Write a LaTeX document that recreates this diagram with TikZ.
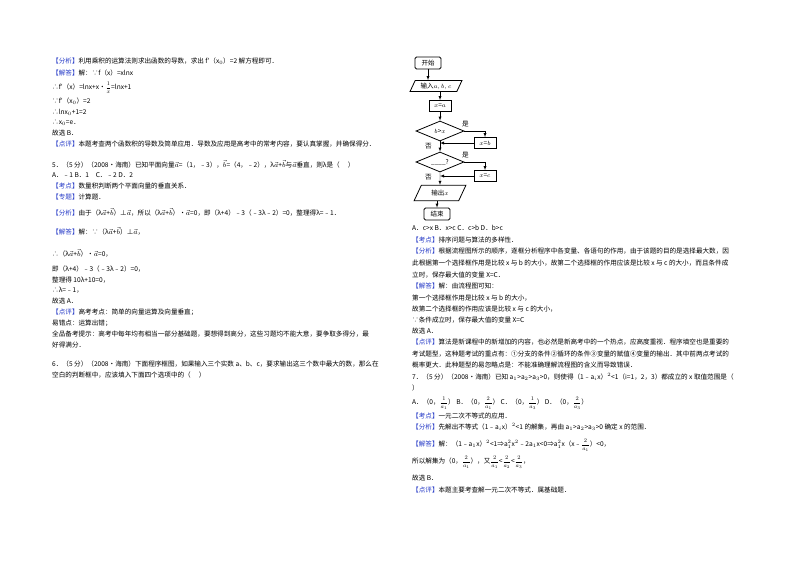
\documentclass[tikz,border=0pt]{standalone}
\usepackage{fontspec}
\setmainfont{Noto Sans CJK SC}
\usetikzlibrary{shapes.geometric}
\definecolor{lb}{RGB}{40,60,200}
\newcommand{\tg}[1]{{\color{lb}【#1】}}
\newcommand{\fr}[2]{\scalebox{0.8}{$\displaystyle\frac{#1}{#2}$}}
\begin{document}
\begin{tikzpicture}[x=1pt,y=-1pt,
  t/.style={anchor=west,inner sep=0pt,font=\fontsize{6.6}{7}\selectfont},
  fc/.style={draw,thick,font=\fontsize{6.5}{7}\selectfont,inner sep=1pt},
  io/.style={fc,trapezium,trapezium left angle=65,trapezium right angle=115,minimum height=11pt,minimum width=52pt},
  dia/.style={fc,diamond,aspect=2.6,minimum width=48pt,minimum height=20pt,inner sep=0pt},
  box/.style={fc,minimum width=22pt,minimum height=11pt},
  ar/.style={draw,->,>=latex}]
\useasboundingbox (0,0) rectangle (800,566);
\fill[white] (0,0) rectangle (800,566);
% left column
\node[t] (l1) at (52,61) {\tg{分析}利用乘积的运算法则求出函数的导数，求出 f′（x$_0$）=2 解方程即可．};
\node[t] (l2) at (52,73) {\tg{解答}解：∵f（x）=xlnx};
\node[t] (l3) at (52,88) {∴f′（x）=lnx+x•\fr{1}{x}=lnx+1};
\node[t] (l4) at (52,101) {∵f′（x$_0$）=2};
\node[t] (l5) at (52,112) {∴lnx$_0$+1=2};
\node[t] (l6) at (52,123) {∴x$_0$=e．};
\node[t] (l7) at (52,133) {故选 B．};
\node[t] (l8) at (52,144) {\tg{点评}本题考查两个函数积的导数及简单应用．导数及应用是高考中的常考内容，要认真掌握，并确保得分．};
\node[t] (l9) at (52,164) {5．（5 分）（2008•海南）已知平面向量$\vec a$=（1，﹣3），$\vec b$=（4，﹣2），λ$\vec a$+$\vec b$与$\vec a$垂直，则λ是（\quad\ ）};
\node[t] (l10) at (52,175) {A．﹣1 B．1\quad C．﹣2 D．2};
\node[t] (l11) at (52,186) {\tg{考点}数量积判断两个平面向量的垂直关系．};
\node[t] (l12) at (52,197) {\tg{专题}计算题．};
\node[t] (l13) at (52,212) {\tg{分析}由于（λ$\vec a$+$\vec b$）⊥$\vec a$，所以（λ$\vec a$+$\vec b$）•$\vec a$=0，即（λ+4）﹣3（﹣3λ﹣2）=0，整理得λ=﹣1．};
\node[t] (l14) at (52,231) {\tg{解答}解：∵（λ$\vec a$+$\vec b$）⊥$\vec a$，};
\node[t] (l15) at (52,253) {∴（λ$\vec a$+$\vec b$）•$\vec a$=0，};
\node[t] (l16) at (52,269) {即（λ+4）﹣3（﹣3λ﹣2）=0，};
\node[t] (l17) at (52,280) {整理得 10λ+10=0，};
\node[t] (l18) at (52,290) {∴λ=﹣1，};
\node[t] (l19) at (52,301) {故选 A．};
\node[t] (l20) at (52,312) {\tg{点评}高考考点：简单的向量运算及向量垂直；};
\node[t] (l21) at (52,323) {易错点：运算出错；};
\node[t] (l22) at (52,334) {全品备考提示：高考中每年均有相当一部分基础题，要想得到高分，这些习题均不能大意，要争取多得分，最};
\node[t] (l23) at (52,345) {好得满分．};
\node[t] (l24) at (52,364) {6．（5 分）（2008•海南）下面程序框图，如果输入三个实数 a、b、c，要求输出这三个数中最大的数，那么在};
\node[t] (l25) at (52,375) {空白的判断框中，应该填入下面四个选项中的（\quad\ ）};
% flowchart
\node[fc,rounded corners=1.5pt,minimum width=26pt,minimum height=12pt] (st) at (428,63) {开始};
\node[io] (in) at (436,86) {输入$a,b,c$};
\node[box] (xa) at (440,106) {$x$=$a$};
\node[dia] (d1) at (440,131) {$b$>$x$};
\node[box] (xb) at (485,143) {$x$=$b$};
\node[dia] (d2) at (440,162) {\_\_\_\_?};
\node[box] (xc) at (485,176) {$x$=$c$};
\node[io] (out) at (440,193) {输出$x$};
\node[fc,rounded corners=1.5pt,minimum width=26pt,minimum height=12pt] (en) at (437,214) {结束};
\coordinate (j1) at (440,143);
\coordinate (j2) at (440,176);
\draw[ar] (st) -- (st|-in.north);
\draw[ar] (in.south-|xa) -- (xa);
\draw[ar] (xa) -- (d1);
\draw[ar] (d1.east) -| (xb.north);
\draw[ar] (xb.west) -- (j1);
\draw[ar] (d1.south) -- (d2.north);
\draw[ar] (d2.east) -| (xc.north);
\draw[ar] (xc.west) -- (j2);
\draw[ar] (d2.south) -- (out.north);
\draw[ar] (out.south-|en) -- (en);
\node[t] (y1) at (462,124) {是};
\node[t] (n1) at (425,146) {否};
\node[t] (y2) at (462,155) {是};
\node[t] (n2) at (425,177) {否};
% right column
\node[t] (r1) at (412,228) {A．c>x B．x>c C．c>b D．b>c};
\node[t] (r2) at (412,240) {\tg{考点}排序问题与算法的多样性．};
\node[t] (r3) at (412,251) {\tg{分析}根据流程图所示的顺序，逐框分析程序中各变量、各语句的作用，由于该题的目的是选择最大数，因};
\node[t] (r4) at (412,263) {此根据第一个选择框作用是比较 x 与 b 的大小，故第二个选择框的作用应该是比较 x 与 c 的大小，而且条件成};
\node[t] (r5) at (412,275) {立时，保存最大值的变量 X=C．};
\node[t] (r6) at (412,286) {\tg{解答}解：由流程图可知：};
\node[t] (r7) at (412,298) {第一个选择框作用是比较 x 与 b 的大小，};
\node[t] (r8) at (412,309) {故第二个选择框的作用应该是比较 x 与 c 的大小，};
\node[t] (r9) at (412,320) {∵条件成立时，保存最大值的变量 X=C};
\node[t] (r10) at (412,331) {故选 A．};
\node[t] (r11) at (412,342) {\tg{点评}算法是新课程中的新增加的内容，也必然是新高考中的一个热点，应高度重视．程序填空也是重要的};
\node[t] (r12) at (412,354) {考试题型，这种题考试的重点有：①分支的条件②循环的条件③变量的赋值④变量的输出．其中前两点考试的};
\node[t] (r13) at (412,365) {概率更大．此种题型的易忽略点是：不能准确理解流程图的含义而导致错误．};
\node[t] (r14) at (412,377) {7．（5 分）（2008•海南）已知 a$_1$>a$_2$>a$_3$>0，则使得（1﹣a$_i$x）$^2$<1（i=1，2，3）都成立的 x 取值范围是（};
\node[t] (r15) at (412,388) {）};
\node[t] (r16) at (412,403) {A．（0，\fr{1}{a_1}）\ B．（0，\fr{2}{a_1}）\ C．（0，\fr{1}{a_3}）\ D．（0，\fr{2}{a_3}）};
\node[t] (r17) at (412,416) {\tg{考点}一元二次不等式的应用．};
\node[t] (r18) at (412,427) {\tg{分析}先解出不等式（1﹣a$_i$x）$^2$<1 的解集，再由 a$_1$>a$_2$>a$_3$>0 确定 x 的范围．};
\node[t] (r19) at (412,445) {\tg{解答}解：（1﹣a$_1$x）$^2$<1⇒a$_1^2$x$^2$﹣2a$_1$x<0⇒a$_1^2$x（x﹣\fr{2}{a_1}）<0，};
\node[t] (r20) at (412,462) {所以解集为（0，\fr{2}{a_1}），又\fr{2}{a_1}<\fr{2}{a_2}<\fr{2}{a_3}，};
\node[t] (r21) at (412,478) {故选 B．};
\node[t] (r22) at (412,490) {\tg{点评}本题主要考查解一元二次不等式．属基础题．};
\end{tikzpicture}
\end{document}
